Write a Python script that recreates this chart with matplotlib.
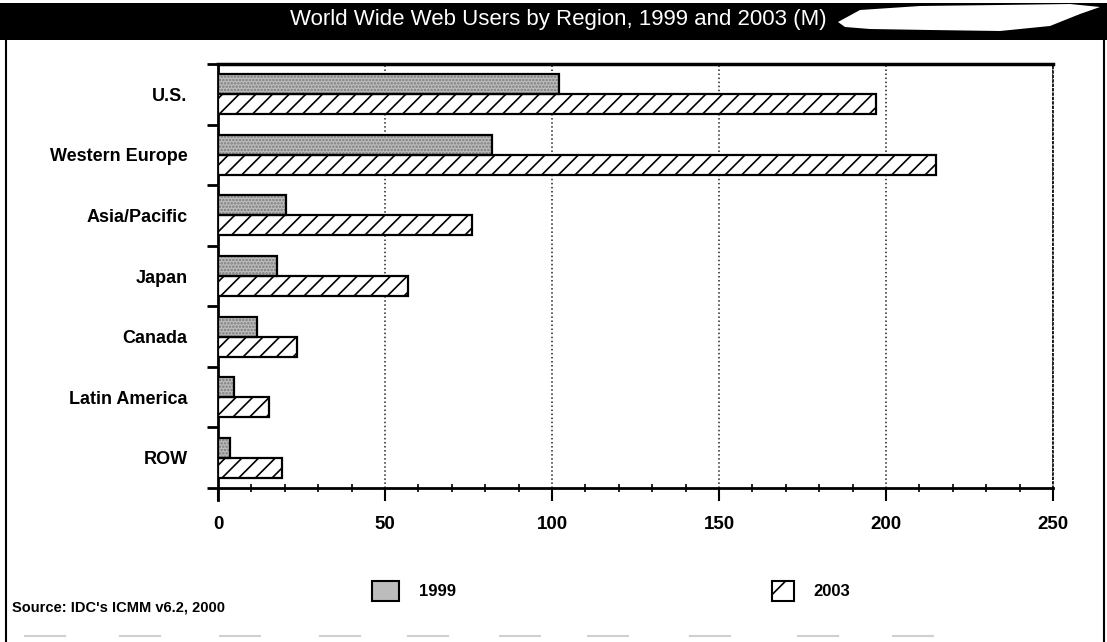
import numpy as np
import matplotlib
matplotlib.use('Agg')
import matplotlib.pyplot as plt
from matplotlib.patches import Rectangle, Polygon, Patch
from matplotlib.lines import Line2D

plt.rcParams['font.family'] = ['Liberation Sans', 'DejaVu Sans']
plt.rcParams['hatch.linewidth'] = 1.2

# Web users in millions
regions = ['U.S.', 'Western Europe', 'Asia/Pacific', 'Japan', 'Canada', 'Latin America', 'ROW']
users_1999 = [102, 82, 20.5, 17.7, 11.6, 4.8, 3.6]
users_2003 = [197, 215, 76, 57, 23.8, 15.3, 19.3]
x_ticks = [0, 50, 100, 150, 200, 250]
title = 'World Wide Web Users by Region, 1999 and 2003 (M)'
source = "Source: IDC's ICMM v6.2, 2000"

W, H = 1107, 642
fig = plt.figure(figsize=(W / 100, H / 100), dpi=100)


def px(x, y):
    # pixel position (from top-left) to figure fraction
    return x / W, 1 - y / H


# black banner with the title
fig.add_artist(Rectangle(px(0, 40), 1, 37 / H, transform=fig.transFigure,
                         facecolor='black', edgecolor='none'))
blob = [(838, 22), (860, 10), (920, 6), (1000, 5), (1070, 4), (1100, 7),
        (1080, 14), (1050, 26), (1000, 31), (930, 30), (870, 29), (845, 27)]
fig.add_artist(Polygon([px(a, b) for a, b in blob], closed=True,
                       transform=fig.transFigure, facecolor='white', edgecolor='none'))
fig.text(*px(558, 19), title, color='white', ha='center', va='center',
         fontsize=16, family=['Liberation Sans Narrow', 'Liberation Sans', 'DejaVu Sans'])

# frame sides
fig.add_artist(Line2D([6 / W, 6 / W], [0, 1 - 40 / H], transform=fig.transFigure,
                      color='black', lw=1.5))
fig.add_artist(Line2D([1104 / W, 1104 / W], [0, 1 - 40 / H], transform=fig.transFigure,
                      color='black', lw=1.5))
for x0 in [25, 120, 220, 320, 408, 500, 588, 690, 798, 893]:
    fig.add_artist(Line2D([x0 / W, (x0 + 40) / W], [1 - 636 / H] * 2,
                          transform=fig.transFigure, color='#d0d0d0', lw=1.5))

ax = fig.add_axes([218 / W, 1 - 488 / H, (1053 - 218) / W, (488 - 64) / H])

y = np.arange(len(regions))
h = 0.33
# 1999: stippled grey (dot texture + black outline)
ax.barh(y - 0.165, users_1999, height=h, color='#bcbcbc', edgecolor='#7a7a7a',
        hatch='.....', linewidth=0, zorder=3)
ax.barh(y - 0.165, users_1999, height=h, fill=False, edgecolor='black',
        linewidth=1.6, zorder=4)
# 2003: white with diagonal hatching
ax.barh(y + 0.165, users_2003, height=h, color='white', edgecolor='black',
        hatch='//', linewidth=1.6, zorder=3)

ax.set_xlim(0, 250)
ax.set_ylim(len(regions) - 0.5, -0.5)
ax.set_xticks(x_ticks)
ax.set_xticklabels([str(t) for t in x_ticks], fontsize=13.5, fontweight='bold')
ax.set_xticks(np.arange(0, 251, 10), minor=True)
ax.tick_params(axis='x', which='major', direction='out', length=9, width=1.5,
               pad=11, color='black')
ax.tick_params(axis='x', which='minor', direction='inout', length=6, width=1.2)

ax.set_yticks(y)
ax.set_yticklabels(regions, fontsize=13, fontweight='bold')
ax.tick_params(axis='y', which='major', length=0, pad=22)
ax.set_yticks(np.arange(-0.5, len(regions)), minor=True)
ax.tick_params(axis='y', which='minor', direction='out', length=8, width=2)

ax.grid(axis='x', which='major', linestyle=':', color='#222222', linewidth=1.1, zorder=0)
ax.set_axisbelow(True)

for side in ['left', 'bottom']:
    ax.spines[side].set_linewidth(2)
ax.spines['top'].set_linewidth(2.5)
ax.spines['right'].set_linestyle(':')
ax.spines['right'].set_linewidth(1.2)
ax.spines['left'].set_bounds(len(regions) - 0.5 + 0.2, -0.5)

h1999 = Patch(facecolor='#bcbcbc', edgecolor='black', linewidth=1.5)
h2003 = Patch(facecolor='white', edgecolor='black', hatch='/', linewidth=1.5)
fig.legend([h1999], ['1999'], loc='center left', bbox_to_anchor=px(372, 591),
           frameon=False, borderpad=0, borderaxespad=0, handlelength=1.6,
           handleheight=1.5, handletextpad=1.2, prop={'size': 12, 'weight': 'bold'})
fig.legend([h2003], ['2003'], loc='center left', bbox_to_anchor=px(772, 591),
           frameon=False, borderpad=0, borderaxespad=0, handlelength=1.3,
           handleheight=1.5, handletextpad=1.2, prop={'size': 12, 'weight': 'bold'})

fig.text(*px(12, 607), source, ha='left', va='center', fontsize=10.5, fontweight='bold')

fig.savefig('out.png', dpi=100)
